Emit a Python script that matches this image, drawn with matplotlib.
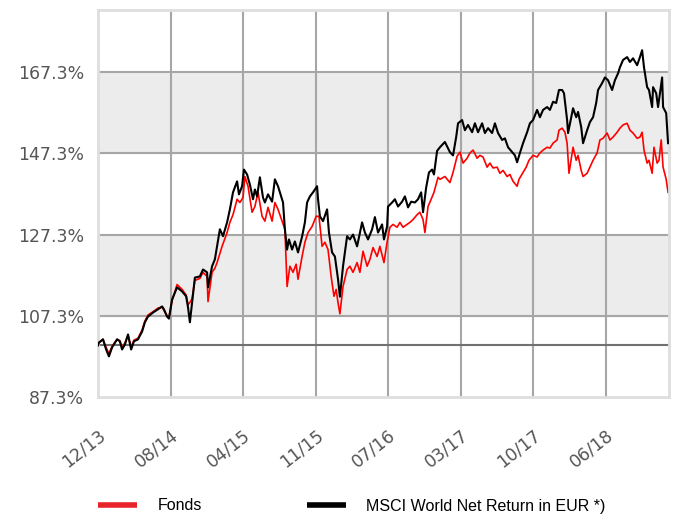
import matplotlib
matplotlib.use("Agg")
import matplotlib.pyplot as plt
from matplotlib.lines import Line2D

# days since start of chart (12/13) and index level in %
msci_days = [0, 3, 16, 26, 35, 45, 61, 70, 77, 86, 96, 106, 115, 128, 141, 150, 160, 176, 192, 205,
             211, 221, 227, 237, 253, 269, 282, 288, 294, 301, 310, 326, 336, 349, 352, 365, 374, 390,
             400, 413, 422, 432, 445, 451, 461, 467, 477, 486, 496, 502, 509, 518, 528, 534, 544, 557,
             566, 576, 586, 592, 598, 605, 611, 621, 630, 640, 653, 662, 669, 678, 688, 701, 704, 710,
             720, 733, 739, 749, 758, 768, 774, 784, 797, 806, 816, 829, 845, 854, 864, 877, 886, 896,
             909, 915, 925, 928, 941, 950, 960, 973, 982, 992, 1002, 1014, 1024, 1034, 1040, 1050, 1059,
             1069, 1075, 1085, 1094, 1110, 1126, 1136, 1146, 1152, 1165, 1174, 1184, 1197, 1206, 1216,
             1229, 1238, 1248, 1261, 1270, 1280, 1293, 1302, 1312, 1325, 1334, 1341, 1350, 1360, 1373,
             1382, 1392, 1405, 1414, 1424, 1437, 1446, 1456, 1466, 1475, 1485, 1491, 1501, 1504, 1514,
             1520, 1530, 1536, 1546, 1552, 1565, 1574, 1584, 1594, 1600, 1613, 1622, 1632, 1645, 1654,
             1664, 1670, 1680, 1693, 1702, 1712, 1725, 1734, 1741, 1747, 1757, 1763, 1773, 1776, 1786,
             1792, 1798, 1805, 1808, 1818, 1824]
msci = [100.0, 100.7, 101.5, 99.0, 97.3, 99.5, 101.5, 101.0, 99.0, 100.2, 102.7, 99.0, 101.0, 101.5,
        103.4, 105.7, 107.1, 108.1, 108.9, 109.6, 108.9, 107.1, 106.6, 111.3, 114.3, 113.3, 112.1,
        109.4, 105.7, 110.6, 116.7, 117.0, 118.7, 118.0, 114.3, 119.5, 121.2, 128.6, 126.9, 130.3,
        133.5, 137.7, 140.4, 137.2, 139.2, 143.3, 142.1, 139.6, 136.0, 138.4, 136.7, 141.4, 136.4,
        135.2, 137.2, 135.4, 140.9, 139.2, 136.7, 135.2, 128.6, 123.6, 126.1, 123.6, 125.6, 122.9,
        126.8, 130.3, 135.2, 136.7, 137.7, 139.2, 136.0, 131.8, 130.6, 133.5, 127.8, 122.9, 121.9,
        116.3, 112.0, 119.5, 126.9, 126.1, 127.3, 124.4, 130.3, 127.8, 126.1, 128.6, 131.6, 127.8,
        129.8, 126.1, 129.3, 134.2, 135.2, 136.0, 134.2, 135.4, 136.7, 134.0, 135.4, 135.2, 136.0,
        137.7, 132.8, 138.9, 142.6, 143.3, 142.1, 147.9, 148.8, 150.1, 147.6, 146.8, 151.3, 154.7,
        155.5, 153.0, 154.3, 152.5, 154.7, 152.5, 154.7, 152.3, 153.5, 152.3, 154.7, 152.3, 150.6,
        151.0, 148.8, 147.6, 146.8, 145.1, 147.4, 149.8, 152.5, 154.7, 155.5, 158.0, 156.2, 158.0,
        158.7, 158.0, 160.0, 159.7, 162.9, 162.9, 162.1, 155.5, 152.3, 156.2, 158.4, 156.2, 157.5,
        153.8, 149.8, 153.0, 155.0, 156.2, 159.7, 162.9, 164.6, 166.0, 165.3, 162.9, 165.3, 167.0,
        168.5, 170.3, 171.0, 169.8, 170.7, 169.0, 171.0, 172.7, 168.5, 163.6, 162.9, 158.7, 163.6,
        162.1, 158.7, 162.1, 166.0, 158.7, 157.2, 149.8]

fonds_days = [0, 3, 16, 26, 35, 45, 61, 70, 77, 86, 96, 106, 115, 128, 141, 150, 160, 176, 192, 205,
              211, 221, 227, 237, 253, 269, 282, 288, 294, 301, 310, 326, 336, 349, 352, 365, 374, 381,
              397, 413, 422, 432, 445, 454, 464, 470, 480, 493, 502, 512, 525, 534, 544, 557, 566, 576,
              589, 598, 605, 614, 624, 634, 640, 653, 662, 672, 685, 698, 707, 717, 726, 736, 746, 755,
              762, 768, 774, 784, 797, 806, 816, 829, 838, 848, 861, 870, 880, 893, 902, 915, 925, 934,
              944, 957, 966, 976, 989, 998, 1008, 1021, 1030, 1040, 1046, 1056, 1066, 1075, 1088, 1094,
              1110, 1126, 1136, 1149, 1158, 1168, 1181, 1190, 1200, 1213, 1222, 1232, 1245, 1254, 1264,
              1277, 1286, 1296, 1309, 1318, 1328, 1341, 1347, 1360, 1370, 1379, 1392, 1405, 1414, 1424,
              1437, 1446, 1456, 1469, 1475, 1485, 1494, 1501, 1507, 1517, 1520, 1530, 1536, 1546, 1552,
              1565, 1574, 1584, 1597, 1606, 1616, 1629, 1638, 1648, 1661, 1670, 1680, 1693, 1702, 1712,
              1725, 1734, 1741, 1747, 1757, 1763, 1773, 1779, 1789, 1795, 1802, 1808, 1818, 1824]
fonds = [100.0, 100.7, 101.5, 99.5, 98.0, 99.8, 101.5, 101.2, 99.5, 100.6, 102.5, 99.6, 101.3, 101.8,
         103.8, 106.0, 107.5, 108.3, 109.2, 109.4, 108.6, 107.3, 106.9, 111.0, 115.0, 113.8, 112.4,
         110.0, 110.6, 111.5, 116.0, 116.5, 118.0, 117.0, 110.8, 118.0, 119.0, 120.4, 124.4, 127.8,
         130.3, 132.2, 136.0, 135.2, 136.4, 141.6, 139.2, 132.8, 134.2, 137.7, 131.8, 130.6, 134.0,
         130.6, 135.2, 133.5, 130.6, 128.6, 114.5, 119.5, 118.0, 120.0, 116.3, 121.9, 125.4, 127.8,
         129.3, 131.8, 131.8, 124.4, 125.4, 123.6, 117.0, 112.1, 113.8, 110.5, 107.8, 114.5, 118.7,
         119.5, 118.0, 120.4, 118.0, 123.2, 119.5, 121.2, 124.1, 121.9, 124.4, 120.4, 125.4, 129.1,
         129.8, 129.1, 130.3, 129.1, 129.8, 130.3, 131.0, 132.2, 132.8, 131.0, 127.8, 134.2, 136.0,
         137.7, 141.4, 140.9, 141.6, 140.1, 142.6, 146.6, 147.6, 144.9, 146.1, 147.4, 148.1, 146.1,
         146.8, 146.4, 143.9, 144.9, 143.7, 143.9, 142.4, 143.1, 141.6, 142.1, 140.4, 139.2, 140.9,
         142.6, 143.9, 145.6, 146.8, 146.4, 147.4, 148.1, 148.8, 148.6, 149.8, 150.6, 153.0, 153.5,
         152.5, 149.8, 142.4, 147.4, 148.8, 145.6, 146.8, 143.1, 141.6, 142.4, 143.9, 145.6, 147.4,
         150.6, 151.0, 152.3, 150.6, 151.3, 152.5, 153.5, 154.3, 154.7, 153.0, 152.3, 151.0, 151.3,
         152.5, 148.1, 144.9, 145.6, 142.4, 148.8, 144.9, 145.6, 150.6, 143.9, 140.9, 137.7]

tick_days = [0, 232, 464, 696, 928, 1160, 1392, 1624]
tick_labels = ["12/13", "08/14", "04/15", "11/15", "07/16", "03/17", "10/17", "06/18"]
y_ticks = [87.3, 107.3, 127.3, 147.3, 167.3]
series_names = ["Fonds", "MSCI World Net Return in EUR *)"]

fig = plt.figure(figsize=(6.75, 5.14), dpi=100)
ax = fig.add_axes([98/675, 117/514, 571/675, 387/514])

# alternating grey bands
ax.axhspan(107.3, 127.3, color="#ececec", zorder=0)
ax.axhspan(147.3, 167.3, color="#ececec", zorder=0)
for t in tick_days[1:]:
    ax.axvline(t, color="#a6a6a6", lw=1.5, zorder=1)
for v in y_ticks[1:]:
    ax.axhline(v, color="#a6a6a6", lw=1.5, zorder=1)
ax.axhline(100, color="#707070", lw=1.5, zorder=1)

ax.plot(fonds_days, fonds, color="#ff0000", lw=1.2, zorder=2)
ax.plot(msci_days, msci, color="#000000", lw=1.5, zorder=3)

ax.set_xlim(0, 1827)
ax.set_ylim(87.3, 182.6)
ax.set_yticks(y_ticks)
ax.set_yticklabels([f"{v:.1f}%" for v in y_ticks], fontsize=12.5, color="#555555")
ax.set_xticks(tick_days)
ax.set_xticklabels(tick_labels, fontsize=12.5, color="#555555", rotation=38,
                   ha="right", va="top", rotation_mode="anchor")
ax.tick_params(length=0)
ax.tick_params(axis="y", pad=10)
ax.tick_params(axis="x", pad=21)
for s in ax.spines.values():
    s.set_color("#dedede")
    s.set_linewidth(2)

handles = [Line2D([], [], color="#e8232a", lw=4, solid_capstyle="butt"),
           Line2D([], [], color="#000000", lw=4, solid_capstyle="butt")]
fig.legend(handles, series_names, loc="center left", bbox_to_anchor=(92/675, 8/514),
           ncol=2, frameon=False, handlelength=2.4, handletextpad=1.3, columnspacing=6.6,
           prop={"family": "Liberation Sans", "size": 11.5}, borderaxespad=0)

fig.savefig("out.png", dpi=100)
